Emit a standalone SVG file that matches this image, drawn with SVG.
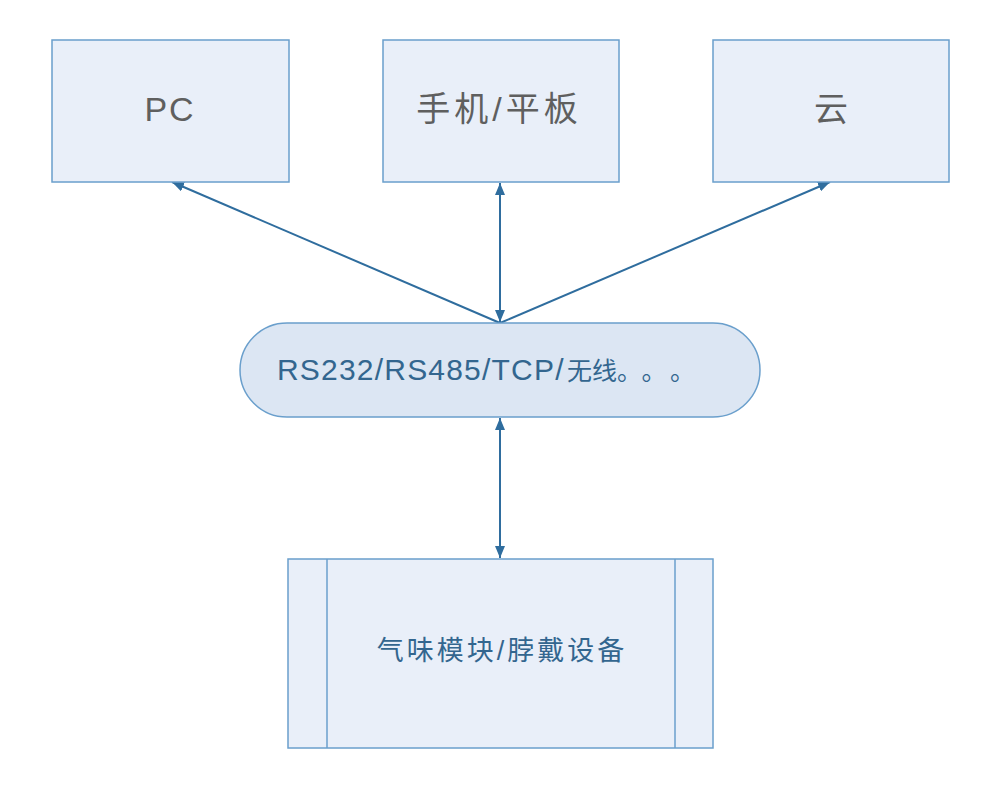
<svg xmlns="http://www.w3.org/2000/svg" width="1008" height="786" viewBox="0 0 1008 786">
<style>
.box{fill:#e9eff9;stroke:#6a9fcc;stroke-width:1.5}
.big{font-family:"Liberation Sans","Noto Sans CJK SC",sans-serif;font-size:34px;fill:#5f5f5f;text-anchor:middle;dominant-baseline:central}
.lbl{font-family:"Liberation Sans","Noto Sans CJK SC",sans-serif;fill:#33668f;dominant-baseline:central}
.cjk{font-family:"Noto Sans CJK SC",sans-serif}
.con{stroke:#2f6d9e;stroke-width:2;fill:none}
</style>
<defs>
<marker id="ah" viewBox="0 0 12 10" refX="12" refY="5" markerWidth="12" markerHeight="10" orient="auto-start-reverse" markerUnits="userSpaceOnUse">
<path d="M0,0 L12,5 L0,10 z" fill="#2f6d9e"/>
</marker>
</defs>
<rect width="1008" height="786" fill="#ffffff"/>
<g id="connectors">
<line class="con" x1="500" y1="323" x2="172" y2="182" marker-end="url(#ah)"/>
<line class="con" x1="500" y1="322" x2="500" y2="183" marker-start="url(#ah)" marker-end="url(#ah)"/>
<line class="con" x1="500" y1="323" x2="830" y2="182" marker-end="url(#ah)"/>
<line class="con" x1="500" y1="418" x2="500" y2="558" marker-start="url(#ah)" marker-end="url(#ah)"/>
</g>
<g id="pc">
<rect class="box" x="52" y="40" width="237" height="142"/>
<text class="big" x="170" y="109" letter-spacing="2">PC</text>
</g>
<g id="phone">
<rect class="box" x="383" y="40" width="236" height="142"/>
<text class="big" x="499" y="109" letter-spacing="4">手机/平板</text>
</g>
<g id="cloud">
<rect class="box" x="713" y="40" width="236" height="142"/>
<text class="big" x="831" y="109">云</text>
</g>
<g id="bus">
<rect x="240" y="323" width="520" height="94" rx="47" ry="47" fill="#dce6f3" stroke="#6a9fcc" stroke-width="1.5"/>
<text class="lbl" y="369"><tspan x="277" font-size="30" letter-spacing="1.2">RS232/RS485/TCP/</tspan><tspan class="cjk" x="567" dx="0 0 0 12 16" font-size="25">无线。。。</tspan></text>
</g>
<g id="module">
<rect class="box" x="288" y="559" width="425" height="189"/>
<line x1="327" y1="559" x2="327" y2="748" stroke="#6a9fcc" stroke-width="1.5"/>
<line x1="675" y1="559" x2="675" y2="748" stroke="#6a9fcc" stroke-width="1.5"/>
<text class="lbl" x="502" y="651" font-size="27" letter-spacing="3" text-anchor="middle">气味模块/脖戴设备</text>
</g>
</svg>
